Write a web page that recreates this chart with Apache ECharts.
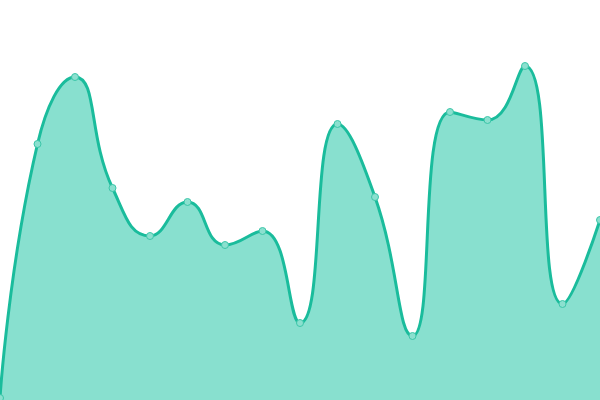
<!DOCTYPE html>
<html>
<head>
<meta charset="utf-8">
<script src="https://cdn.jsdelivr.net/npm/echarts@6/dist/echarts.min.js"></script>
<style>
  html, body { margin: 0; padding: 0; background: #fff; }
  #main { width: 600px; height: 400px; }
</style>
</head>
<body>
<div id="main"></div>
<script>
// 数据
const categories = ['1', '2', '3', '4', '5', '6', '7', '8', '9', '10', '11', '12', '13', '14', '15', '16', '17']
const values = [2, 256, 323, 212, 164, 198, 155, 169, 77, 276, 203, 64, 288, 280, 334, 96, 180]

const chart = echarts.init(document.getElementById('main'))
const option = {
  animation: false,
  grid: { left: 0, right: 0, top: 0, bottom: 0 },
  xAxis: {
    type: 'category',
    data: categories,
    boundaryGap: false,
    show: false
  },
  yAxis: {
    type: 'value',
    min: 0,
    max: 400,
    show: false
  },
  series: [{
    type: 'line',
    data: values,
    smooth: 0.5,
    symbol: 'circle',
    symbolSize: 7,
    lineStyle: { color: '#1abc9c', width: 3 },
    itemStyle: { color: '#8be0cf', borderColor: '#3cc6a9', borderWidth: 1 },
    areaStyle: { color: '#88e0cf', opacity: 1 }
  }]
}
chart.setOption(option)
</script>
</body>
</html>
